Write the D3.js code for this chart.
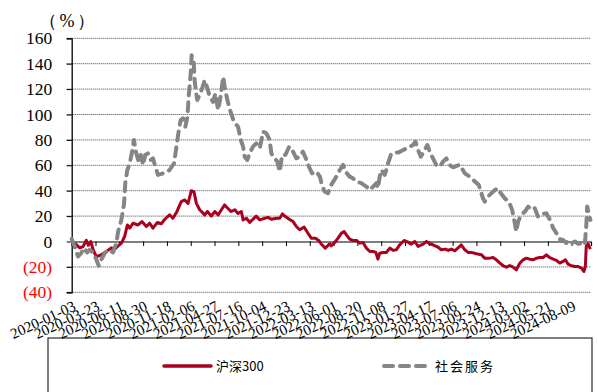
<!DOCTYPE html>
<html>
<head>
<meta charset="utf-8">
<script src="https://cdn.jsdelivr.net/npm/d3@7"></script>
<style>
  html, body { margin: 0; padding: 0; background: #fff; }
  svg { display: block; }
</style>
</head>
<body>
<svg id="chart" width="598" height="392"></svg>
<script>
// Cumulative return since 2020-01-03 (%)
const hs300Dates = ["2020-01-03","2020-01-13","2020-01-30","2020-02-10","2020-02-21","2020-02-28","2020-03-07","2020-03-15","2020-03-26","2020-04-11","2020-04-28","2020-05-15","2020-05-27","2020-06-07","2020-06-18","2020-06-29","2020-07-08","2020-07-16","2020-07-27","2020-08-13","2020-08-26","2020-09-10","2020-09-21","2020-10-02","2020-10-17","2020-10-30","2020-11-11","2020-11-27","2020-12-08","2020-12-20","2021-01-05","2021-01-17","2021-01-28","2021-02-08","2021-02-17","2021-02-25","2021-03-08","2021-03-14","2021-03-25","2021-04-03","2021-04-16","2021-04-28","2021-05-09","2021-05-20","2021-05-31","2021-06-11","2021-06-22","2021-07-04","2021-07-15","2021-07-26","2021-08-01","2021-08-12","2021-08-23","2021-09-03","2021-09-14","2021-09-26","2021-10-13","2021-10-24","2021-11-04","2021-11-21","2021-12-02","2021-12-11","2021-12-21","2022-01-03","2022-01-16","2022-01-27","2022-02-07","2022-02-22","2022-03-07","2022-03-18","2022-04-01","2022-04-12","2022-04-23","2022-05-04","2022-05-19","2022-05-24","2022-06-05","2022-06-16","2022-06-27","2022-07-06","2022-07-14","2022-07-25","2022-08-05","2022-08-17","2022-08-28","2022-09-08","2022-09-19","2022-10-01","2022-10-12","2022-10-21","2022-10-28","2022-11-03","2022-11-14","2022-11-25","2022-12-07","2022-12-18","2022-12-29","2023-01-09","2023-01-24","2023-02-06","2023-02-17","2023-03-01","2023-03-12","2023-03-29","2023-04-09","2023-04-20","2023-05-01","2023-05-18","2023-05-29","2023-06-12","2023-06-21","2023-07-02","2023-07-13","2023-07-30","2023-08-04","2023-08-16","2023-08-27","2023-09-07","2023-09-24","2023-10-11","2023-10-22","2023-11-08","2023-11-19","2023-11-30","2023-12-12","2023-12-23","2024-01-03","2024-01-14","2024-01-25","2024-02-05","2024-02-17","2024-02-28","2024-03-10","2024-03-21","2024-04-01","2024-04-13","2024-04-24","2024-05-05","2024-05-16","2024-05-27","2024-06-08","2024-06-19","2024-06-30","2024-07-11","2024-07-19","2024-07-28","2024-08-08","2024-08-20","2024-08-31","2024-09-11","2024-09-19","2024-09-24","2024-09-27","2024-10-03","2024-10-11"];
const hs300Values = [0,-1.3,-5,-4,1,-3,0,-6.5,-12,-10.5,-8,-5,-6,-3.5,-1.3,4,13,10.5,14.4,13,15.7,11.8,14.4,10.5,15,14,17.5,21,18.3,22.8,31.4,32.7,30,40,39,30,25,23.6,21,23.6,20,23.6,21,25,28.8,26,23.6,25,22,23.6,17,18.3,15,17.5,20,17,18.3,19,17.5,18.3,18.3,21.7,19.6,17.5,15.7,11.8,9.2,11.3,6.5,2.6,2.6,0.8,-2.6,-5.2,-1.8,-3.4,-0.8,2.6,6.5,7.9,5.2,1.8,0.8,0.8,-1.3,-0.8,-5.2,-7.9,-7.9,-8.6,-13.9,-9.2,-8.6,-8.6,-5.2,-7,-6.5,-2.6,0.8,-0.5,-2.1,0,-3.9,-2.1,0,-1.8,-2.6,-4.5,-6.5,-6,-7,-6,-7.3,-3.9,-2.6,-6.5,-8.6,-8.6,-9.7,-10.5,-13.1,-13.1,-12.6,-14.4,-17,-19.1,-20.2,-18.9,-20.2,-22.3,-17,-14.4,-13.1,-13.9,-14.4,-13.1,-12.6,-12.6,-10.5,-12.6,-13.9,-14.9,-17,-15.7,-14.4,-17.8,-19.1,-19.7,-19.7,-21,-23.6,-19.7,-3.9,-1.8,-6];

const serviceDates = ["2020-01-03","2020-01-13","2020-01-24","2020-02-04","2020-02-13","2020-02-24","2020-03-03","2020-03-15","2020-03-26","2020-04-03","2020-04-11","2020-04-23","2020-05-04","2020-05-21","2020-06-01","2020-06-07","2020-06-18","2020-06-27","2020-07-01","2020-07-08","2020-07-16","2020-07-24","2020-07-30","2020-08-07","2020-08-15","2020-08-22","2020-08-30","2020-09-06","2020-09-15","2020-09-25","2020-10-02","2020-10-10","2020-10-19","2020-10-30","2020-11-13","2020-11-27","2020-12-12","2020-12-20","2020-12-28","2021-01-03","2021-01-11","2021-01-19","2021-01-26","2021-01-30","2021-02-06","2021-02-09","2021-02-16","2021-02-19","2021-02-23","2021-02-28","2021-03-14","2021-03-25","2021-04-03","2021-04-11","2021-04-22","2021-04-30","2021-05-09","2021-05-18","2021-05-26","2021-05-31","2021-06-09","2021-06-20","2021-07-01","2021-07-15","2021-07-24","2021-08-01","2021-08-06","2021-08-15","2021-08-23","2021-09-03","2021-09-14","2021-09-26","2021-10-07","2021-10-18","2021-10-29","2021-11-04","2021-11-15","2021-11-24","2021-12-02","2021-12-10","2021-12-21","2022-01-03","2022-01-12","2022-01-27","2022-02-07","2022-02-18","2022-03-02","2022-03-10","2022-03-21","2022-04-04","2022-04-16","2022-04-23","2022-05-02","2022-05-13","2022-05-24","2022-06-07","2022-06-22","2022-07-03","2022-07-14","2022-07-25","2022-08-05","2022-08-20","2022-09-02","2022-09-19","2022-10-01","2022-10-12","2022-10-23","2022-10-28","2022-11-03","2022-11-09","2022-11-20","2022-11-25","2022-12-01","2022-12-10","2022-12-18","2023-01-04","2023-01-21","2023-02-06","2023-02-23","2023-03-03","2023-03-12","2023-03-21","2023-04-03","2023-04-12","2023-04-20","2023-05-01","2023-05-12","2023-05-24","2023-06-04","2023-06-15","2023-06-26","2023-07-08","2023-07-19","2023-07-30","2023-08-16","2023-09-02","2023-09-19","2023-10-02","2023-10-16","2023-10-22","2023-11-02","2023-11-19","2023-12-03","2023-12-15","2023-12-28","2024-01-11","2024-01-22","2024-01-31","2024-02-05","2024-02-11","2024-02-22","2024-03-05","2024-03-16","2024-03-27","2024-04-07","2024-04-18","2024-04-29","2024-05-16","2024-05-28","2024-06-08","2024-06-19","2024-06-30","2024-07-11","2024-07-22","2024-07-28","2024-08-08","2024-08-20","2024-08-31","2024-09-13","2024-09-22","2024-09-27","2024-09-30","2024-10-08","2024-10-11"];
const serviceValues = [2,-3.9,-11.8,-9.2,-5.2,-8.6,-6.5,-8.6,-14.4,-19.1,-14.4,-9.2,-6.5,-8.6,-1.3,7.9,17,30,45.9,56.3,61.6,70.7,80,69.4,62.9,68.1,60.3,68.1,69.4,64.2,65.5,59,52.4,53.2,54.2,56.3,61.6,74.7,87.8,95.6,97,90.4,98.2,114,132.3,146.7,141.5,127,119,111.4,119,127,120.5,114,110,116.6,103.5,115,129.7,121.8,111.4,102,94.3,90.4,80,74.7,66.8,64.2,69.4,74.7,77.3,73.4,86.5,85.2,80,69.4,65.5,62.9,55,68.1,68.1,74.7,72.6,65.5,66.8,70.7,64.2,59,53.7,55,51.1,44.5,39.3,38,44.5,49.8,56.3,60.3,54.2,51.1,49.8,47.2,45.9,43.2,40.6,43.2,45.9,41.9,51.1,56.3,52.4,56.3,61.6,68.1,70,70,72,74,76,78.6,72,66.8,72,76,70.7,65.5,60.3,59,62.9,65.5,60.3,58.4,59.5,60.3,53.7,51.1,47.2,44.5,34,31.4,35.4,39.3,41.9,38,34,31.4,24.9,14.4,7.9,15.7,21,23.6,27.5,24.9,26.2,19.6,21.5,22.3,17,10.5,6.5,1.8,1.3,-1.3,0.8,-1.3,0,-1.8,-1.3,-2.6,11.8,27.5,19.6,17];

const xTickLabels = ["2020-01-03","2020-03-23","2020-06-11","2020-08-30","2020-11-18","2021-02-06","2021-04-27","2021-07-16","2021-10-04","2021-12-23","2022-03-13","2022-06-01","2022-08-20","2022-11-08","2023-01-27","2023-04-17","2023-07-06","2023-09-24","2023-12-13","2024-03-02","2024-05-21","2024-08-09"];
const yTicks = [-40, -20, 0, 20, 40, 60, 80, 100, 120, 140, 160];
const seriesNames = ["沪深300", "社会服务"];

const parse = d3.utcParse("%Y-%m-%d");
const hs300 = hs300Dates.map((d, i) => ({ date: parse(d), value: hs300Values[i] }));
const service = serviceDates.map((d, i) => ({ date: parse(d), value: serviceValues[i] }));

const svg = d3.select("#chart");
const plotLeft = 71.7, plotRight = 591, plotTop = 38.3, plotBottom = 292.3;

const x = d3.scaleUtc()
  .domain([parse("2020-01-03"), parse("2024-10-13")])
  .range([plotLeft, plotRight]);
const y = d3.scaleLinear().domain([-40, 160]).range([plotBottom, plotTop]);

const serif = "'Liberation Serif', 'Times New Roman', serif";

// Horizontal dotted gridlines
svg.append("g")
  .selectAll("line")
  .data(yTicks.filter(v => v !== 0))
  .join("line")
  .attr("x1", plotLeft - 5).attr("x2", plotRight)
  .attr("y1", d => y(d)).attr("y2", d => y(d))
  .attr("stroke", "#444").attr("stroke-width", 1)
  .attr("stroke-dasharray", "1,1");

// Y axis
const yAxis = d3.axisLeft(y).tickValues(yTicks).tickSize(5)
  .tickFormat(v => v < 0 ? `(${Math.abs(v)})` : `${v}`);
const gy = svg.append("g").attr("transform", `translate(${plotLeft},0)`).call(yAxis);
gy.select(".domain").attr("stroke", "#000").attr("stroke-width", 1.3);
gy.selectAll(".tick line").attr("stroke", "#000");
gy.selectAll(".tick text")
  .attr("x", -19.5)
  .attr("font-family", serif).attr("font-size", 17.5)
  .attr("fill", d => d < 0 ? "#ff0000" : "#000");

// X axis along the zero line with tick marks, labels at the bottom
const tickDates = xTickLabels.map(parse);
const xAxis = d3.axisBottom(x).tickValues(tickDates).tickSize(4.5).tickFormat("");
const gx = svg.append("g").attr("transform", `translate(0,${y(0)})`).call(xAxis);
gx.select(".domain").attr("stroke", "#000").attr("stroke-width", 1.2);
gx.selectAll(".tick line").attr("stroke", "#000");

svg.append("g")
  .selectAll("text")
  .data(xTickLabels)
  .join("text")
  .attr("transform", d => `translate(${x(parse(d)) + 0.5},${plotBottom + 7.5}) rotate(-25)`)
  .attr("text-anchor", "end")
  .attr("dy", "0.72em")
  .attr("font-family", serif).attr("font-size", 15)
  .attr("fill", "#000")
  .text(d => d);

// Unit label
svg.append("text")
  .attr("x", 39).attr("y", 27)
  .attr("font-family", serif).attr("font-size", 18)
  .attr("letter-spacing", 2.5)
  .text("（%）");

// Series lines
const line = d3.line().x(d => x(d.date)).y(d => y(d.value)).curve(d3.curveLinear);

svg.append("path")
  .datum(hs300)
  .attr("d", line)
  .attr("fill", "none")
  .attr("stroke", "#a8001e")
  .attr("stroke-width", 3)
  .attr("stroke-linejoin", "round");

svg.append("path")
  .datum(service)
  .attr("d", line)
  .attr("fill", "none")
  .attr("stroke", "#858585")
  .attr("stroke-width", 4)
  .attr("stroke-linecap", "round")
  .attr("stroke-linejoin", "round")
  .attr("stroke-dasharray", "9,7");

// Legend
svg.append("rect")
  .attr("x", 48).attr("y", 338).attr("width", 544).attr("height", 70)
  .attr("fill", "none").attr("stroke", "#000").attr("stroke-width", 1);

const lg = svg.append("g");
lg.append("line")
  .attr("x1", 164).attr("x2", 211).attr("y1", 366).attr("y2", 366)
  .attr("stroke", "#a8001e").attr("stroke-width", 3.5).attr("stroke-linecap", "round");
lg.append("text")
  .attr("x", 216).attr("y", 371)
  .attr("font-family", "'Noto Sans CJK SC', 'Liberation Sans', sans-serif").attr("font-size", 13)
  .text(seriesNames[0]);
lg.append("line")
  .attr("x1", 384).attr("x2", 426).attr("y1", 366).attr("y2", 366)
  .attr("stroke", "#858585").attr("stroke-width", 4).attr("stroke-linecap", "round")
  .attr("stroke-dasharray", "9,7");
lg.append("text")
  .attr("x", 435).attr("y", 371)
  .attr("font-family", "'Noto Sans CJK SC', sans-serif").attr("font-size", 13)
  .attr("letter-spacing", 2)
  .text(seriesNames[1]);
</script>
</body>
</html>
